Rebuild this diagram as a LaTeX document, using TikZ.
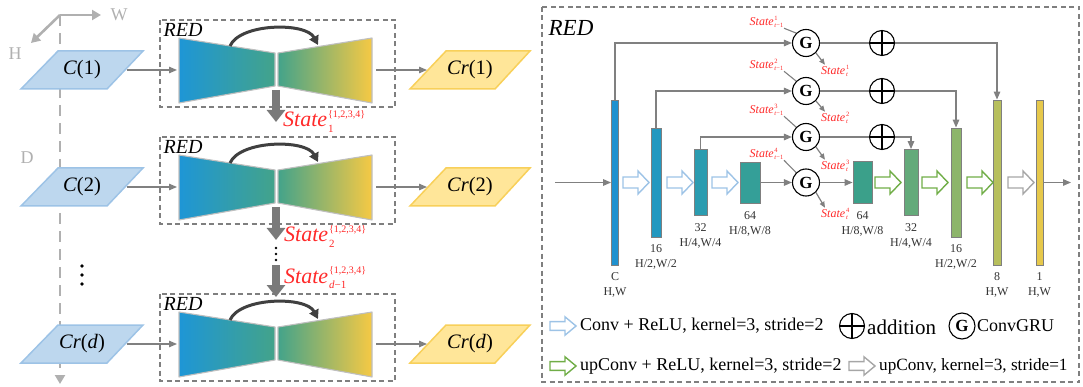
\documentclass[tikz,border=0pt]{standalone}
\usepackage{fontspec}
\setmainfont{Liberation Serif}
\usetikzlibrary{arrows.meta}

\definecolor{flowgray}{HTML}{808080}
\definecolor{boxgray}{HTML}{7F7F7F}
\definecolor{axisgray}{HTML}{B0B0B0}
\definecolor{downgray}{HTML}{7A7A7A}
\definecolor{arcgray}{HTML}{404040}
\definecolor{paraBfill}{HTML}{BDD7EE}
\definecolor{paraBdraw}{HTML}{9DC3E6}
\definecolor{paraYfill}{HTML}{FFE699}
\definecolor{paraYdraw}{HTML}{F8D05A}
\definecolor{stred}{HTML}{FF2A2A}
\definecolor{bwBlue}{HTML}{1E96D6}
\definecolor{bwTeal}{HTML}{43A38A}
\definecolor{bwYellow}{HTML}{F6C944}
\definecolor{bwEdge}{HTML}{BFBFBF}
\definecolor{bargray}{HTML}{7F7F7F}
\definecolor{cC}{HTML}{1F91CF}
\definecolor{c16}{HTML}{2398C0}
\definecolor{c32}{HTML}{2B9CB0}
\definecolor{c64}{HTML}{349F98}
\definecolor{d64c}{HTML}{3BA08A}
\definecolor{d32c}{HTML}{64AA7A}
\definecolor{d16c}{HTML}{8DB56B}
\definecolor{d8c}{HTML}{B7BF5D}
\definecolor{d1c}{HTML}{E6C84B}
\definecolor{upblue}{HTML}{9DC3E6}
\definecolor{upgreen}{HTML}{70AD47}
\definecolor{upgray}{HTML}{A6A6A6}

\newcommand\fsz[1]{\fontsize{#1}{#1}\selectfont}
\newcommand\statebig[2]{$\hbox{\textit{State}\kern1pt}_{\hbox{\fsz{11}#1}}^{\hbox{\fsz{10}#2}}$}
\newcommand\statesm[2]{$\hbox{\textit{State}\kern0.8pt}_{\hbox{\fsz{6.5}#1}}^{\hbox{\fsz{6.5}#2}}$}

\begin{document}
\begin{tikzpicture}[x=1pt,y=-1pt,
  txt/.style={inner sep=0pt},
  flow/.style={draw=flowgray,line width=1.3pt,-{Triangle[length=8pt,width=6.5pt]}},
  sflow/.style={draw=flowgray,line width=1.2pt,-{Triangle[length=6pt,width=5pt]}},
  link/.style={draw=flowgray,line width=1.3pt},
  dashbox/.style={draw=boxgray,line width=1.2pt,dash pattern=on 5pt off 3.5pt},
  bigdown/.style={draw=downgray,line width=8pt,-{Triangle[length=12pt,width=18pt]}},
  skiparc/.style={draw=arcgray,line width=3pt,-{Triangle[length=9pt,width=10pt]}},
  axis/.style={draw=axisgray,line width=2.6pt,-{Triangle[length=9pt,width=10pt]}},
  axlbl/.style={txt,text=axisgray,font=\fsz{18}},
  paraB/.style={fill=paraBfill,draw=paraBdraw,line width=1.5pt},
  paraY/.style={fill=paraYfill,draw=paraYdraw,line width=1.5pt},
  bar/.style={draw=bargray,line width=0.8pt,inner sep=0pt,minimum height=#1},
  barlbl/.style={txt,align=center,font=\fontsize{12}{15}\selectfont,text=black!80},
  gru/.style={circle,draw=black,line width=1.1pt,fill=white,minimum size=27pt,inner sep=0pt,font=\fsz{17}\bfseries},
  add/.style={circle,draw=black,line width=1.1pt,fill=white,minimum size=25pt,inner sep=0pt,
    path picture={\draw[line width=1.1pt] (path picture bounding box.north) -- (path picture bounding box.south)
      (path picture bounding box.west) -- (path picture bounding box.east);}},
  stlbl/.style={txt,text=stred,font=\fsz{12}},
  harrow/.pic={\draw[line width=1.4pt,line join=miter,pic actions]
    (0,-5.5) -- (15,-5.5) -- (15,-11.5) -- (26,0) -- (15,11.5) -- (15,5.5) -- (0,5.5) -- cycle;}
]
\useasboundingbox (0,0) rectangle (1083,387);

% ---------------- left panel: axes ----------------
\coordinate (ax0) at (60,15);
\coordinate (axW) at (101,15);
\coordinate (axH) at (31,43);
\coordinate (axD) at (60,384);
\draw[axis] (ax0) -- (axW);
\draw[axis] (ax0) -- (axH);
\draw[axis,dash pattern=on 11pt off 7pt] (ax0) -- (axD);
\node[axlbl] (lW) at (119,15) {W};
\node[axlbl] (lH) at (15,54) {H};
\node[axlbl] (lD) at (27,158) {D};

% ---------------- left panel: three recurrent encoder-decoder stages ----------------
\foreach \T/\i/\lin/\lout in {20/1/{\textit{C}(1)}/{\textit{Cr}(1)},137/2/{\textit{C}(2)}/{\textit{Cr}(2)},294/3/{\textit{Cr}(\textit{d})}/{\textit{Cr}(\textit{d})}}{
  \draw[dashbox] (160,\T) rectangle (395,\T+87);
  \node[txt,font=\fsz{20}\itshape] (redL\i) at (183,\T+10) {RED};
  \shade[left color=bwBlue,right color=bwTeal] (179,\T+18) -- (275,\T+33) -- (275,\T+66) -- (179,\T+83) -- cycle;
  \shade[left color=bwTeal,right color=bwYellow] (278,\T+33) -- (372,\T+18) -- (372,\T+83) -- (278,\T+66) -- cycle;
  \draw[bwEdge,line width=1.1pt,line join=round] (179,\T+18) -- (275,\T+33) -- (275,\T+66) -- (179,\T+83) -- cycle
    (278,\T+33) -- (372,\T+18) -- (372,\T+83) -- (278,\T+66) -- cycle;
  \coordinate (skipA\i) at (230,\T+26);
  \coordinate (skipB\i) at (318,\T+25);
  \draw[skiparc] (skipA\i) .. controls (240,\T+3) and (306,\T+2) .. (skipB\i);
  \path[paraB] (58,\T+31) -- (143,\T+31) -- (107,\T+69) -- (21,\T+69) -- cycle;
  \node[txt,font=\fsz{20.5}] (in\i) at (82,\T+50) {\lin};
  \path[paraY] (446,\T+31) -- (530,\T+31) -- (495,\T+69) -- (410,\T+69) -- cycle;
  \node[txt,font=\fsz{20.5}] (out\i) at (470,\T+50) {\lout};
  \coordinate (inR\i) at (127,\T+50);
  \coordinate (redW\i) at (177,\T+50);
  \coordinate (redE\i) at (376,\T+50);
  \coordinate (outL\i) at (427,\T+50);
  \draw[flow] (inR\i) -- (redW\i);
  \draw[flow] (redE\i) -- (outL\i);
}

% vertical dots on the input side
\fill (82,266) circle (1.8pt) (82,275) circle (1.8pt) (82,284) circle (1.8pt);

% hidden states passed down
\coordinate (neck1) at (276,90);
\coordinate (st1) at (276,122);
\coordinate (neck2) at (276,207);
\coordinate (st2) at (276,240);
\coordinate (chainTop) at (276,265);
\coordinate (neck3) at (276,297);
\draw[bigdown] (neck1) -- (st1);
\draw[bigdown] (neck2) -- (st2);
\draw[bigdown] (chainTop) -- (neck3);
\fill (276,248) circle (1.3pt) (276,254) circle (1.3pt) (276,260) circle (1.3pt);
\node[txt,anchor=base west,font=\fsz{22},text=stred] (s1) at (283,127) {\statebig{1}{\{1,2,3,4\}}};
\node[txt,anchor=base west,font=\fsz{22},text=stred] (s2) at (284,242) {\statebig{2}{\{1,2,3,4\}}};
\node[txt,anchor=base west,font=\fsz{22},text=stred] (s3) at (284,283) {\statebig{\textit{d}−1}{\{1,2,3,4\}}};

% ---------------- right panel: RED detail ----------------
\draw[dashbox] (542,7) rectangle (1079,382);
\node[txt,font=\fsz{23}\itshape] (redR) at (571,28) {RED};

% encoder feature maps
\node[bar=165pt,minimum width=7pt,fill=cC] (eC) at (615,182.5) {};
\node[bar=109pt,minimum width=10pt,fill=c16] (e16) at (656,182.5) {};
\node[bar=66pt,minimum width=13pt,fill=c32] (e32) at (700.5,182.5) {};
\node[bar=41pt,minimum width=20pt,fill=c64] (e64) at (750,182.5) {};
% decoder feature maps
\node[bar=42pt,minimum width=19pt,fill=d64c] (d64) at (862.5,182.5) {};
\node[bar=66pt,minimum width=14pt,fill=d32c] (d32) at (911,182.5) {};
\node[bar=109pt,minimum width=10pt,fill=d16c] (d16) at (956,182.5) {};
\node[bar=165pt,minimum width=8pt,fill=d8c] (d8) at (997,182.5) {};
\node[bar=165pt,minimum width=7pt,fill=d1c] (d1) at (1039.5,182.5) {};

% sizes under the maps
\node[barlbl] (lC) at (615,284.5) {C\\H,W};
\node[barlbl] (l16) at (656,256.5) {16\\H/2,W/2};
\node[barlbl] (l32) at (700.5,235.5) {32\\H/4,W/4};
\node[barlbl] (l64) at (750,224) {64\\H/8,W/8};
\node[barlbl] (m64) at (862.5,224) {64\\H/8,W/8};
\node[barlbl] (m32) at (911,235.5) {32\\H/4,W/4};
\node[barlbl] (m16) at (956,256.5) {16\\H/2,W/2};
\node[barlbl] (m8) at (997,284.5) {8\\H,W};
\node[barlbl] (m1) at (1039.5,284.5) {1\\H,W};

% conv arrows
\pic[draw=upblue] at (623,182.5) {harrow};
\pic[draw=upblue] at (667,182.5) {harrow};
\pic[draw=upblue] at (712,182.5) {harrow};
\pic[draw=upgreen] at (875,182.5) {harrow};
\pic[draw=upgreen] at (922,182.5) {harrow};
\pic[draw=upgreen] at (967,182.5) {harrow};
\pic[draw=upgray] at (1008,182.5) {harrow};

% ConvGRU cells and additions
\node[gru] (g1) at (806,43) {G};
\node[gru] (g2) at (806,91) {G};
\node[gru] (g3) at (806,137) {G};
\node[gru] (g4) at (806,182.5) {G};
\node[add] (p1) at (882,43) {};
\node[add] (p2) at (882,91) {};
\node[add] (p3) at (882,137) {};

% input and output
\coordinate (netIn) at (555,182.5);
\coordinate (netOut) at (1071,182.5);
\draw[flow] (netIn) -- (eC.west);
\draw[flow] (d1.east) -- (netOut);

% skip paths through the GRUs
\draw[flow] (eC.north) |- (g1.west);
\draw[flow] (e16.north) |- (g2.west);
\draw[flow] (e32.north) |- (g3.west);
\draw[flow] (e64.east) -- (g4.west);
\draw[link] (g1.east) -- (p1.west);
\draw[link] (g2.east) -- (p2.west);
\draw[link] (g3.east) -- (p3.west);
\draw[flow] (p1.east) -| (d8.north);
\draw[flow] (p2.east) -| (d16.north);
\draw[flow] (p3.east) -| (d32.north);
\draw[flow] (g4.east) -- (d64.west);

% states in and out of each GRU
\node[stlbl,anchor=east] (sp1) at (784,22) {\statesm{\textit{t}−1}{1}};
\node[stlbl,anchor=east] (sp2) at (784,65) {\statesm{\textit{t}−1}{2}};
\node[stlbl,anchor=east] (sp3) at (784,110) {\statesm{\textit{t}−1}{3}};
\node[stlbl,anchor=east] (sp4) at (784,154) {\statesm{\textit{t}−1}{4}};
\node[stlbl,anchor=west] (sn1) at (821,71) {\statesm{\textit{t}}{1}};
\node[stlbl,anchor=west] (sn2) at (821,118) {\statesm{\textit{t}}{2}};
\node[stlbl,anchor=west] (sn3) at (821,166) {\statesm{\textit{t}}{3}};
\node[stlbl,anchor=west] (sn4) at (821,214) {\statesm{\textit{t}}{4}};
\foreach \k in {1,2,3,4}{
  \draw[link,line width=1.1pt] (sp\k.south east) -- (g\k.135);
  \draw[sflow] (g\k.-45) -- ([xshift=4pt]sn\k.north west);
}

% legend
\pic[draw=upblue,yscale=0.8] at (550,326) {harrow};
\node[txt,anchor=west,font=\fsz{18}] (lg1) at (580,326) {Conv + ReLU, kernel=3, stride=2};
\node[add,minimum size=25pt] (lgadd) at (852,326) {};
\node[txt,anchor=west,font=\fsz{21}] (lg2) at (867,327) {addition};
\node[gru,minimum size=26pt] (lggru) at (962,326) {G};
\node[txt,anchor=west,font=\fsz{18}] (lg3) at (977,326) {ConvGRU};
\pic[draw=upgreen,yscale=0.8] at (550,366) {harrow};
\node[txt,anchor=west,font=\fsz{18}] (lg4) at (580,366) {upConv + ReLU, kernel=3, stride=2};
\pic[draw=upgray,yscale=0.8] at (849,366) {harrow};
\node[txt,anchor=west,font=\fsz{17.2}] (lg5) at (879,366) {upConv, kernel=3, stride=1};
\end{tikzpicture}
\end{document}
